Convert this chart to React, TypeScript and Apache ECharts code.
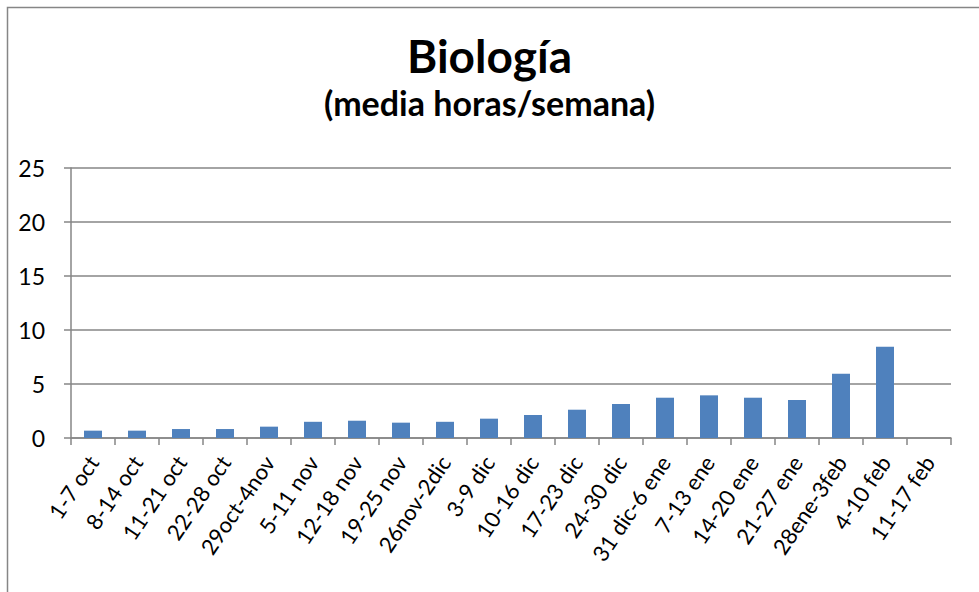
import React, { useEffect, useRef } from "react";
import * as echarts from "echarts";

const categories = [
  "1-7 oct", "8-14 oct", "11-21 oct", "22-28 oct", "29oct-4nov", "5-11 nov",
  "12-18 nov", "19-25 nov", "26nov-2dic", "3-9 dic", "10-16 dic", "17-23 dic",
  "24-30 dic", "31 dic-6 ene", "7-13 ene", "14-20 ene", "21-27 ene",
  "28ene-3feb", "4-10 feb", "11-17 feb",
];
const horas = [
  0.68, 0.68, 0.83, 0.83, 1.05, 1.5, 1.6, 1.42, 1.5, 1.79,
  2.13, 2.62, 3.15, 3.73, 3.95, 3.73, 3.52, 5.95, 8.45, null,
];
const yTicks = { min: 0, max: 25, interval: 5 };
const titleText = "Biología";
const subtitleText = "(media horas/semana)";

const FONT = "Lato, Carlito, Calibri, 'Open Sans', sans-serif";

export default function App() {
  const ref = useRef<HTMLDivElement>(null);
  useEffect(() => {
    if (!ref.current) return;
    const chart = echarts.init(ref.current, null, { renderer: "svg" });
    chart.setOption({
      animation: false,
      backgroundColor: "#ffffff",
      textStyle: { fontFamily: FONT },
      title: [
        {
          text: titleText,
          left: "center",
          top: 27,
          textStyle: { fontFamily: FONT, fontWeight: "bold", fontSize: 46, color: "#000" },
        },
        {
          text: subtitleText,
          left: "center",
          top: 80,
          textStyle: { fontFamily: FONT, fontWeight: "bold", fontSize: 34, color: "#000" },
        },
      ],
      graphic: [
        {
          type: "rect",
          shape: { x: 7.5, y: 7.5, width: 1200, height: 1200 },
          style: { fill: "none", stroke: "#868686", lineWidth: 1.5 },
          silent: true,
        },
      ],
      grid: { left: 71, right: 28, top: 168, bottom: 154, containLabel: false },
      xAxis: {
        type: "category",
        data: categories,
        axisLine: { lineStyle: { color: "#868686", width: 1.5 } },
        axisTick: { show: true, length: 7, lineStyle: { color: "#868686", width: 1.5 } },
        axisLabel: {
          rotate: 56,
          interval: 0,
          margin: 20,
          fontSize: 22,
          color: "#000",
          fontFamily: FONT,
        },
        splitLine: { show: false },
      },
      yAxis: {
        type: "value",
        min: yTicks.min,
        max: yTicks.max,
        interval: yTicks.interval,
        axisLine: { show: true, lineStyle: { color: "#868686", width: 1.5 } },
        axisTick: { show: true, length: 7, lineStyle: { color: "#868686", width: 1.5 } },
        axisLabel: { fontSize: 23, color: "#000", margin: 26, fontFamily: FONT },
        splitLine: { show: true, lineStyle: { color: "#868686", width: 1.5 } },
      },
      series: [
        {
          type: "bar",
          data: horas,
          barWidth: 18,
          itemStyle: { color: "#4F81BD" },
        },
      ],
    });
    return () => chart.dispose();
  }, []);
  return (
    <div
      ref={ref}
      style={{ position: "fixed", left: 0, top: 0, width: 979, height: 592 }}
    />
  );
}
